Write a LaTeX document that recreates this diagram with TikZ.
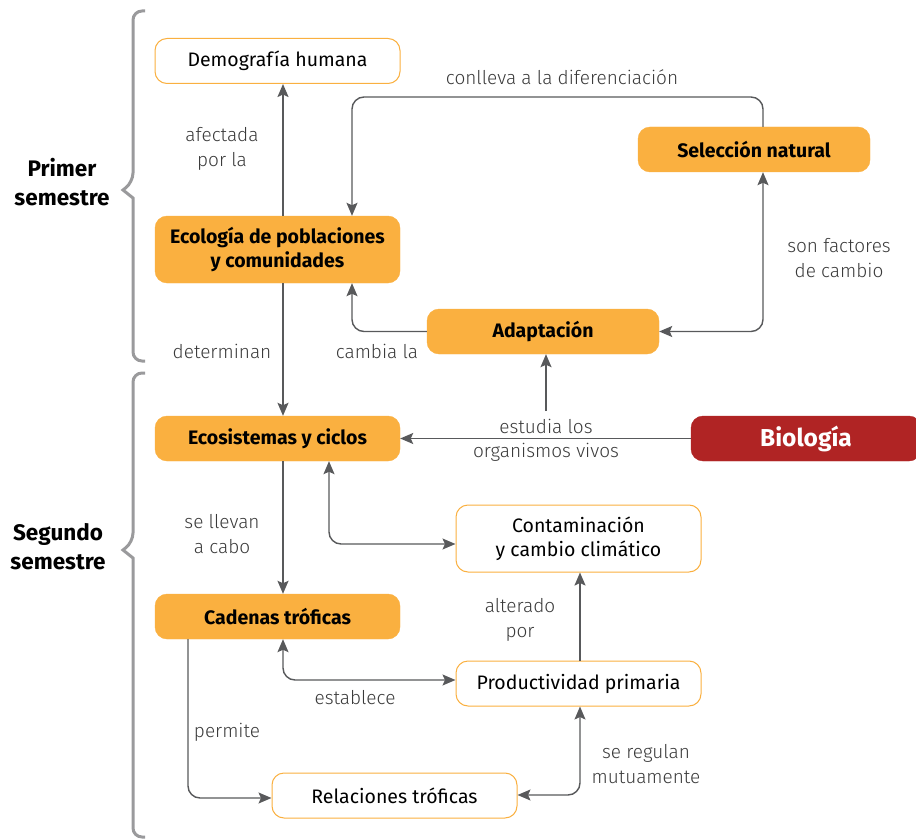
\documentclass[tikz,border=0pt]{standalone}
\usepackage{fontspec}
\setmainfont{Fira Sans}
\newfontfamily\lbl{Fira Sans Light}
\usetikzlibrary{arrows.meta}
\definecolor{orng}{HTML}{FAB040}
\definecolor{redb}{HTML}{B02424}
\definecolor{arr}{HTML}{58595B}
\definecolor{brc}{HTML}{9A9A9C}
\definecolor{txtg}{HTML}{3A3A3A}
\tikzset{
  box/.style={rounded corners=12pt, minimum width=245pt, minimum height=45pt, inner sep=0pt, align=center, font=\fontsize{19.5}{25}\selectfont},
  obox/.style={box, fill=orng, draw=orng, font=\fontsize{19.5}{25}\selectfont\bfseries},
  wbox/.style={box, fill=white, draw=orng, line width=1pt},
  tip/.tip={Stealth[length=13pt,width=11pt,inset=2.5pt]},
  con/.style={draw=arr, line width=1.8pt, -tip},
  con2/.style={draw=arr, line width=1.4pt, tip-tip, rounded corners=12pt},
  lab/.style={font=\lbl\fontsize{19}{25}\selectfont, text=txtg, align=center, inner sep=0pt},
  brace/.style={draw=brc, line width=3pt, rounded corners=9pt},
  sem/.style={font=\fontsize{22.5}{29}\selectfont\bfseries, align=center}
}
\begin{document}
\begin{tikzpicture}[x=1pt,y=-1pt]
\useasboundingbox (0,0) rectangle (916,840);
% braces
\draw[brace] (145,11) -- (133,11) -- (133,182) [sharp corners] -- (123,190) -- (133,198) [rounded corners=9pt] -- (133,361) -- (145,361);
\draw[brace] (145,373) -- (133,373) -- (133,542) [sharp corners] -- (123,550) -- (133,558) [rounded corners=9pt] -- (133,837) -- (145,837);
\node[sem] (prim) at (62,182) {Primer\\semestre};
\node[sem] (seg) at (58,547) {Segundo\\semestre};
% nodes
\node[wbox] (demo) at (277.5,61) {Demografía humana};
\node[obox, minimum height=67pt, font=\fontsize{19.5}{24}\selectfont\bfseries] (eco) at (277.5,249.5) {Ecología de poblaciones\\y comunidades};
\node[obox, minimum width=232pt] (sel) at (754,149.5) {Selección natural};
\node[obox, minimum width=232pt] (ada) at (543,331.5) {Adaptación};
\node[box, fill=redb, draw=redb, text=white, minimum width=230pt, font=\fontsize{24.5}{29}\selectfont\bfseries] (bio) at (806,438.5) {Biología};
\node[obox] (ecs) at (277.5,438.5) {Ecosistemas y ciclos};
\node[wbox, minimum height=67pt, font=\fontsize{19.5}{24}\selectfont] (cont) at (578.5,538.5) {Contaminación\\y cambio climático};
\node[obox] (cad) at (277.5,616.5) {Cadenas tróficas};
\node[wbox] (prod) at (578.5,683.5) {Productividad primaria};
\node[wbox] (rel) at (394.5,795.5) {Relaciones tróficas};
% connectors
\draw[con] (eco.north -| 283,0) -- (demo.south -| 283,0);
\node[lab] (l1) at (222,149) {afectada\\por la};
\draw[con, line width=1.4pt, rounded corners=12pt] (sel.north -| 763,0) |- (558,97) -| (eco.north -| 352,0);
\node[lab] (l2) at (562,77) {conlleva a la diferenciación};
\draw[con2] (sel.south -| 763,0) |- (ada.east);
\node[lab] (l3) at (839,258) {son factores\\de cambio};
\draw[con, line width=1.4pt, rounded corners=12pt] (ada.west) -| (eco.south -| 352,0);
\node[lab] (l4) at (377,351) {cambia la};
\draw[con] (eco.south -| 283,0) -- (ecs.north -| 283,0);
\node[lab] (l5) at (222,351) {determinan};
\draw[con] (bio.west) -- (ecs.east);
\coordinate (bv) at (546,411);
\draw[con] (bv) -- (ada.south -| bv);
\node[lab] (l6a) at (546,426) {estudia los};
\node[lab] (l6b) at (546,452) {organismos vivos};
\draw[con] (ecs.south -| 283,0) -- (cad.north -| 283,0);
\node[lab] (l7) at (222,534) {se llevan\\a cabo};
\draw[con2] (cont.west |- 0,544) -| (ecs.south -| 329,0);
\draw[con] (prod.north -| 580,0) -- (cont.south -| 580,0);
\node[lab] (l8) at (520,620) {alterado\\por};
\draw[con2] (prod.west |- 0,680) -| (cad.south -| 283,0);
\node[lab] (l9) at (355,698) {establece};
\draw[con, line width=1.4pt, rounded corners=12pt] (cad.south -| 188,0) |- (rel.west |- 0,798);
\node[lab] (l10) at (227,732) {permite};
\draw[con2] (rel.east |- 0,795) -| (prod.south -| 580,0);
\node[lab] (l11) at (646,764) {se regulan\\mutuamente};
\end{tikzpicture}
\end{document}
